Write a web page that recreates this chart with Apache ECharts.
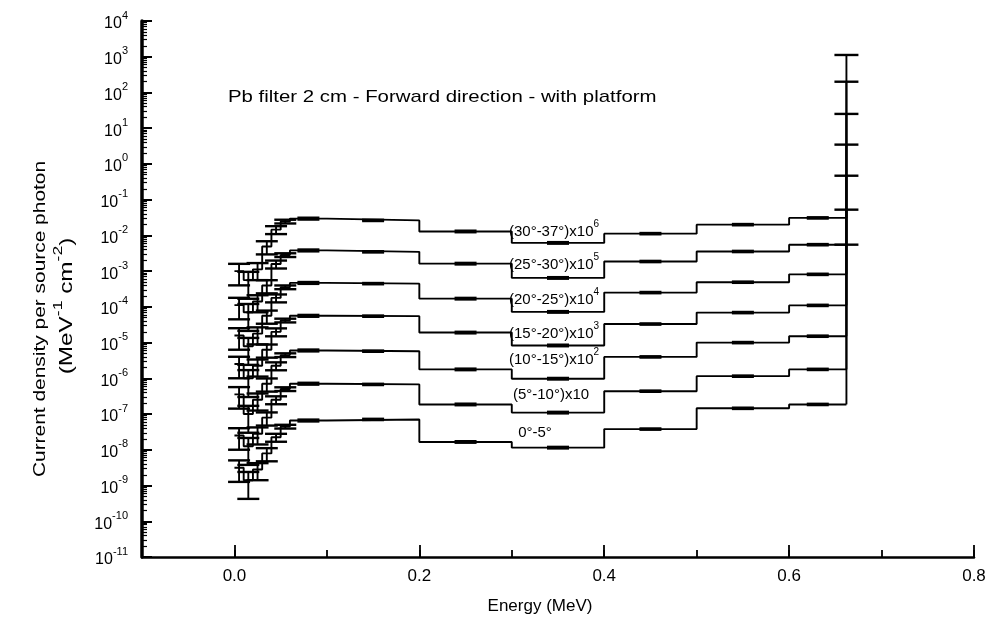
<!DOCTYPE html>
<html><head><meta charset="utf-8">
<script src="https://cdn.jsdelivr.net/npm/echarts@6/dist/echarts.min.js"></script>
<style>html,body{margin:0;padding:0;background:#fff}#c{width:990px;height:630px}</style>
</head><body><div id="c"></div><script>
// Energy bin edges (MeV)
const binEdges = [0.0, 0.01, 0.02, 0.03, 0.04, 0.05, 0.06, 0.1, 0.2, 0.3, 0.4, 0.5, 0.6, 0.662];
// relative statistical error per bin
const relErr = [0.6, 0.7, 0.5, 0.4, 0.25, 0.12, 0.06, 0.04, 0.05, 0.05, 0.04, 0.04, 0.04];
// current density per bin (MeV^-1 cm^-2 per source photon), scaled as labelled
const s30_37 = [1.0e-3, 5.62e-4, 1.12e-3, 4.90e-3, 1.45e-2, 2.45e-2, 2.95e-2, 2.63e-2, 1.29e-2, 6.17e-3, 1.12e-2, 2.0e-2, 3.09e-2];
const s25_30 = [1.12e-4, 7.08e-5, 1.41e-4, 3.98e-4, 1.58e-3, 2.82e-3, 3.80e-3, 3.47e-3, 1.62e-3, 6.46e-4, 1.86e-3, 3.55e-3, 5.50e-3];
const s20_25 = [1.58e-5, 7.94e-6, 1.78e-5, 5.62e-5, 1.78e-4, 3.55e-4, 4.68e-4, 4.47e-4, 1.70e-4, 7.24e-5, 2.51e-4, 4.90e-4, 8.13e-4];
const s15_20 = [2.51e-6, 1.0e-6, 2.24e-6, 6.31e-6, 2.0e-5, 4.17e-5, 5.62e-5, 5.50e-5, 1.91e-5, 8.32e-6, 3.31e-5, 6.92e-5, 1.10e-4];
const s10_15 = [3.55e-7, 1.0e-7, 2.51e-7, 7.08e-7, 2.24e-6, 4.47e-6, 6.03e-6, 5.75e-6, 1.78e-6, 9.77e-7, 3.98e-6, 1.0e-5, 1.51e-5];
const s5_10  = [2.51e-8, 1.26e-8, 2.82e-8, 7.94e-8, 2.51e-7, 5.01e-7, 7.08e-7, 6.76e-7, 1.86e-7, 1.10e-7, 4.37e-7, 1.15e-6, 1.78e-6];
const s0_5   = [3.16e-9, 1.41e-9, 2.82e-9, 7.94e-9, 2.24e-8, 4.47e-8, 6.61e-8, 7.08e-8, 1.66e-8, 1.15e-8, 3.80e-8, 1.45e-7, 1.86e-7];
// 662 keV line values
const peakEnergy = 0.662;
const peakValues = [1.12e3, 2.0e2, 2.51e1, 3.47, 4.68e-1, 5.25e-2, 5.50e-3];
const seriesLabels = ['{n|(30°-37°)x10}{s|6}', '{n|(25°-30°)x10}{s|5}', '{n|(20°-25°)x10}{s|4}',
  '{n|(15°-20°)x10}{s|3}', '{n|(10°-15°)x10}{s|2}', '{n|(5°-10°)x10}', '{n|0°-5°}'];
const xTickLabels = [0.0, 0.2, 0.4, 0.6, 0.8];
const yMin = 1e-11, yMax = 1e4;

const allSeries = [s30_37, s25_30, s20_25, s15_20, s10_15, s5_10, s0_5];
const FONT = "'Liberation Sans', Arial, Helvetica, sans-serif";
const labelOffsets = [[-4,-14],[-4,-16],[-4,-15],[-4,-14],[-4,-21],[-7,-20],[-23,-17]];
const labelX = 0.35;

function stepPoints(vals) {
  const pts = [];
  vals.forEach((v, i) => {
    if (v == null) return;
    pts.push([binEdges[i], v]);
    pts.push([binEdges[i + 1], v]);
  });
  return pts;
}
function errPoints(vals) {
  const pts = [];
  vals.forEach((v, i) => {
    if (v == null) return;
    pts.push([(binEdges[i] + binEdges[i + 1]) / 2, v, relErr[i]]);
  });
  return pts;
}
const CAP = 11;
function errRender(params, api) {
  const x = api.value(0), v = api.value(1), e = api.value(2);
  const hi = api.coord([x, v * (1 + e)]);
  const lo = api.coord([x, Math.max(v * (1 - e), yMin)]);
  const st = { stroke: '#000', lineWidth: 1.9 };
  const cs = { stroke: '#000', lineWidth: 2.4 };
  return { type: 'group', children: [
    { type: 'line', shape: { x1: hi[0], y1: hi[1], x2: lo[0], y2: lo[1] }, style: st },
    { type: 'line', shape: { x1: hi[0] - CAP, y1: hi[1], x2: hi[0] + CAP, y2: hi[1] }, style: cs },
    { type: 'line', shape: { x1: lo[0] - CAP, y1: lo[1], x2: lo[0] + CAP, y2: lo[1] }, style: cs }
  ]};
}
function peakRender(params, api) {
  const x = api.value(0), base = api.value(1), pk = api.value(2);
  const b = api.coord([x, base]);
  const p = api.coord([x, pk]);
  return { type: 'group', children: [
    { type: 'line', shape: { x1: b[0], y1: b[1], x2: p[0], y2: p[1] }, style: { stroke: '#000', lineWidth: 1.9 } },
    { type: 'line', shape: { x1: p[0] - 12, y1: p[1], x2: p[0] + 12, y2: p[1] }, style: { stroke: '#000', lineWidth: 2.4 } }
  ]};
}

const minorVals = [];
for (let e = -11; e < 4; e++) for (let m = 2; m <= 9; m++) minorVals.push(m * Math.pow(10, e));

const series = [];
allSeries.forEach((vals, k) => {
  series.push({
    type: 'line', data: stepPoints(vals), showSymbol: false, symbol: 'none',
    lineStyle: { color: '#000', width: 1.9 }, animation: false, silent: true,
    markPoint: {
      symbol: 'circle', symbolSize: 0, silent: true, animation: false,
      data: [{ coord: [labelX, vals[9]], label: {
        show: true, position: 'inside', offset: labelOffsets[k], formatter: seriesLabels[k],
        rich: {
          n: { fontSize: 15, fontFamily: FONT, color: '#000', lineHeight: 20, verticalAlign: 'bottom' },
          s: { fontSize: 10, fontFamily: FONT, color: '#000', verticalAlign: 'top' }
        }
      } }]
    }
  });
  series.push({
    type: 'custom', renderItem: errRender, data: errPoints(vals), encode: { x: 0, y: 1 },
    animation: false, silent: true, clip: true
  });
});
series.push({
  type: 'custom', renderItem: peakRender, animation: false, silent: true,
  data: allSeries.map((vals, k) => [peakEnergy, vals[vals.length - 1], peakValues[k]]),
  encode: { x: 0, y: 2 }
});

const chart = echarts.init(document.getElementById('c'), null, { renderer: 'canvas' });
chart.setOption({
  backgroundColor: '#fff',
  animation: false,
  grid: { left: 142, right: 16, top: 21, bottom: 73 },
  xAxis: [{
    type: 'value', min: -0.1, max: 0.8, interval: 0.1,
    axisLine: { show: true, onZero: false, lineStyle: { color: '#000', width: 2.5 } },
    axisTick: { show: true, inside: true, length: 7, lineStyle: { color: '#000', width: 1.8 } },
    axisLabel: { customValues: xTickLabels, formatter: v => v.toFixed(1), color: '#000', fontSize: 17, fontFamily: FONT, margin: 11 },
    splitLine: { show: false }
  }, {
    type: 'value', min: -0.1, max: 0.8, interval: 0.1, position: 'bottom',
    axisLine: { show: false, onZero: false },
    axisTick: { show: true, inside: true, length: 12, customValues: xTickLabels, lineStyle: { color: '#000', width: 1.8 } },
    axisLabel: { show: false }, splitLine: { show: false }
  }],
  yAxis: [{
    type: 'log', logBase: 10, min: yMin, max: yMax, interval: 1,
    axisLine: { show: true, onZero: false, lineStyle: { color: '#000', width: 3.5 } },
    axisTick: { show: true, inside: true, length: 10, lineStyle: { color: '#000', width: 2 } },
    axisLabel: {
      color: '#000', margin: 14,
      formatter: v => '{b|10}{s|' + Math.round(Math.log10(v)) + '}',
      rich: {
        b: { fontSize: 16, fontFamily: FONT, color: '#000', lineHeight: 22, verticalAlign: 'bottom' },
        s: { fontSize: 11, fontFamily: FONT, color: '#000', verticalAlign: 'top' }
      }
    },
    splitLine: { show: false }
  }, {
    type: 'log', logBase: 10, min: yMin, max: yMax, position: 'left',
    axisLine: { show: false, onZero: false },
    axisTick: { show: true, inside: true, length: 5, customValues: minorVals, lineStyle: { color: '#000', width: 1.2 } },
    axisLabel: { show: false }, splitLine: { show: false }
  }],
  graphic: [
    { type: 'text', x: 228, y: 97, scaleX: 1.2, style: { text: 'Pb filter 2 cm - Forward direction - with platform', font: '17px ' + FONT, fill: '#000', align: 'left', verticalAlign: 'middle', textAlign: 'left', textVerticalAlign: 'middle' } },
    { type: 'text', x: 40, y: 319, rotation: Math.PI / 2, scaleX: 1.23, style: { text: 'Current density per source photon', font: '17px ' + FONT, fill: '#000', align: 'center', verticalAlign: 'middle', textAlign: 'center', textVerticalAlign: 'middle' } },
    { type: 'text', x: 64, y: 306, rotation: Math.PI / 2, scaleX: 1.35, style: {
      text: '{n|(MeV}{s|-1}{n| cm}{s|-2}{n|)}', fill: '#000', align: 'center', verticalAlign: 'middle', textAlign: 'center', textVerticalAlign: 'middle',
      rich: { n: { fontSize: 18, fontFamily: FONT, lineHeight: 24, verticalAlign: 'bottom' }, s: { fontSize: 13, fontFamily: FONT, verticalAlign: 'top' } } } },
    { type: 'text', x: 540, y: 606, style: { text: 'Energy (MeV)', font: '17px ' + FONT, fill: '#000', align: 'center', verticalAlign: 'middle', textAlign: 'center', textVerticalAlign: 'middle' } }
  ],
  series: series
});
</script></body></html>
